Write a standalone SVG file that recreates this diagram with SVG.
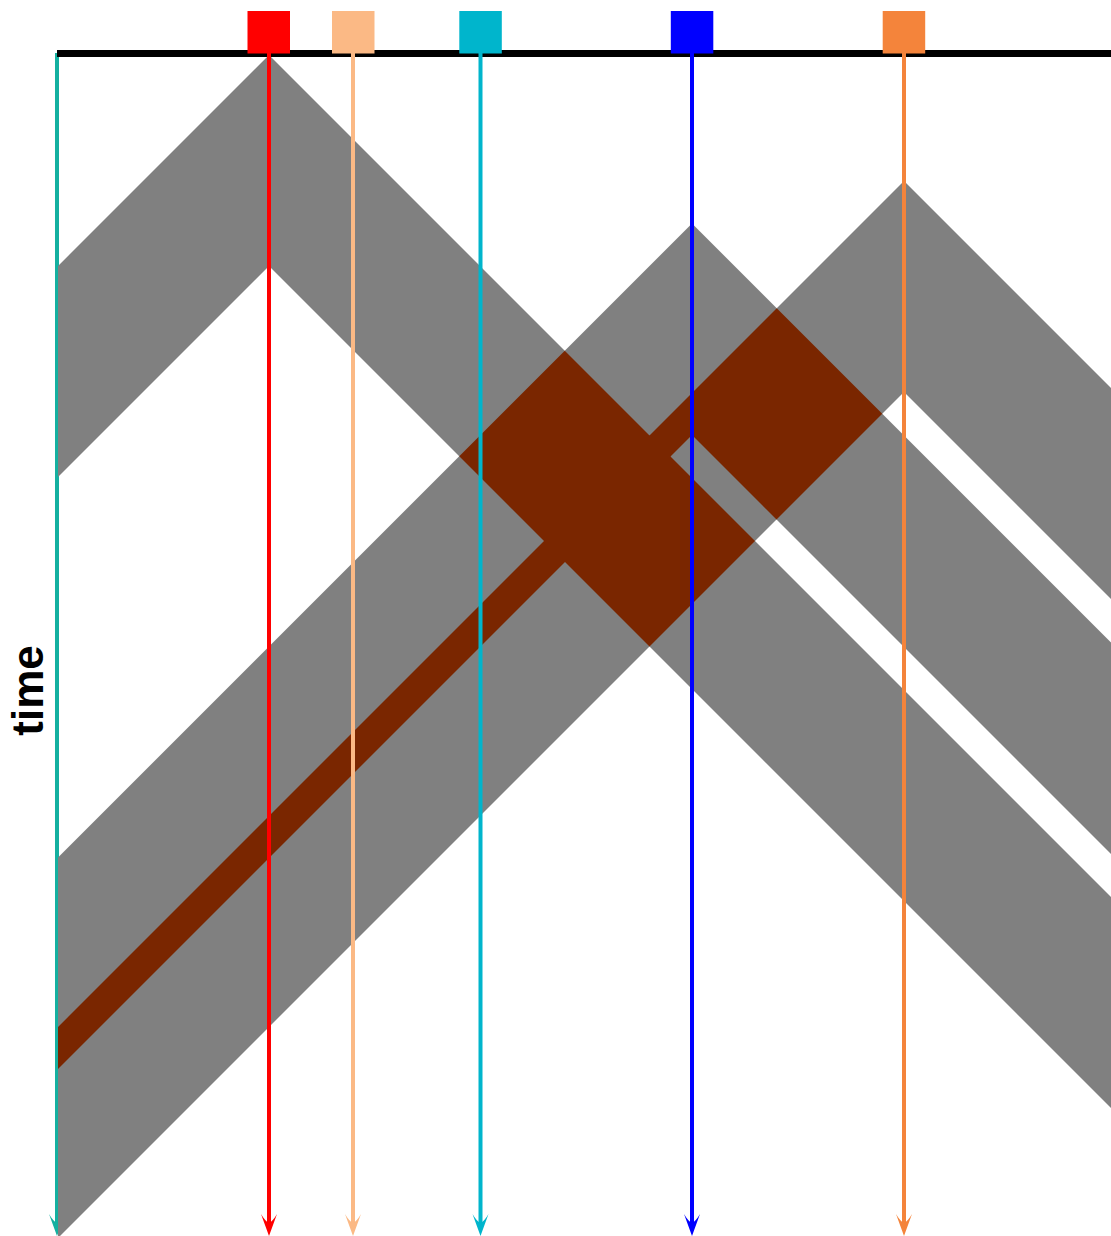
<svg xmlns="http://www.w3.org/2000/svg" width="1111" height="1236" viewBox="0 0 1111 1236">
<style>
.band{fill:#808080}
.ov{fill:#7a2600}
.ln{stroke-width:4;fill:none}
.sq{stroke:none}
.lbl{font-family:"Liberation Sans",Arial,sans-serif;font-weight:bold;font-size:44px;fill:#000}
</style>
<defs>
<clipPath id="cB"><path d="M58,857.5 L692,223.5 L1200,731.5 L1200,943 L692,435 L58,1069 Z"/></clipPath>
<clipPath id="cO"><path d="M58,1027 L904,181 L1200,477 L1200,688 L904,392 L58,1238 Z"/></clipPath>
</defs>
<rect width="1111" height="1236" fill="#fff"/>
<g id="connector-time">
<line class="ln" x1="57" y1="53" x2="57" y2="1224" stroke="#14b0a0"/>
<path d="M57,1236 L49,1214 Q53,1221 57,1223 Q61,1221 65,1214 Z" fill="#14b0a0"/>
</g>
<g id="bands">
<path id="bandRed" class="band" d="M58,266 L269,55 L1200,986 L1200,1197 L269,266 L58,477 Z"/>
<path id="bandBlue" class="band" d="M58,857.5 L692,223.5 L1200,731.5 L1200,943 L692,435 L58,1069 Z"/>
<path id="bandOrange" class="band" d="M58,1027 L904,181 L1200,477 L1200,688 L904,392 L58,1238 Z"/>
<path class="ov" clip-path="url(#cB)" d="M58,266 L269,55 L1200,986 L1200,1197 L269,266 L58,477 Z"/>
<path class="ov" clip-path="url(#cO)" d="M58,266 L269,55 L1200,986 L1200,1197 L269,266 L58,477 Z"/>
<path class="ov" clip-path="url(#cO)" d="M58,857.5 L692,223.5 L1200,731.5 L1200,943 L692,435 L58,1069 Z"/>
</g>
<rect id="axis" x="57" y="50" width="1054" height="7" fill="#000"/>
<g id="connectors">
<line class="ln" x1="269" y1="53" x2="269" y2="1224" stroke="#ff0000"/>
<path d="M269,1236 L261,1214 Q265,1221 269,1223 Q273,1221 277,1214 Z" fill="#ff0000"/>
<line class="ln" x1="353" y1="53" x2="353" y2="1224" stroke="#fbb985"/>
<path d="M353,1236 L345,1214 Q349,1221 353,1223 Q357,1221 361,1214 Z" fill="#fbb985"/>
<line class="ln" x1="480.5" y1="53" x2="480.5" y2="1224" stroke="#00b5cc"/>
<path d="M480.5,1236 L472.5,1214 Q476.5,1221 480.5,1223 Q484.5,1221 488.5,1214 Z" fill="#00b5cc"/>
<line class="ln" x1="692" y1="53" x2="692" y2="1224" stroke="#0000ff"/>
<path d="M692,1236 L684,1214 Q688,1221 692,1223 Q696,1221 700,1214 Z" fill="#0000ff"/>
<line class="ln" x1="904" y1="53" x2="904" y2="1224" stroke="#f4843b"/>
<path d="M904,1236 L896,1214 Q900,1221 904,1223 Q908,1221 912,1214 Z" fill="#f4843b"/>
</g>
<g id="node-red"><rect class="sq" x="247.5" y="11" width="42.5" height="42.5" fill="#ff0000"/></g>
<g id="node-lightorange"><rect class="sq" x="332" y="11" width="42.5" height="42.5" fill="#fbb985"/></g>
<g id="node-cyan"><rect class="sq" x="459.3" y="11" width="42.5" height="42.5" fill="#00b5cc"/></g>
<g id="node-blue"><rect class="sq" x="670.8" y="11" width="42.5" height="42.5" fill="#0000ff"/></g>
<g id="node-orange"><rect class="sq" x="882.7" y="11" width="42.5" height="42.5" fill="#f4843b"/></g>
<text class="lbl" transform="translate(42.5,690.5) rotate(-90)" text-anchor="middle">time</text>
</svg>
